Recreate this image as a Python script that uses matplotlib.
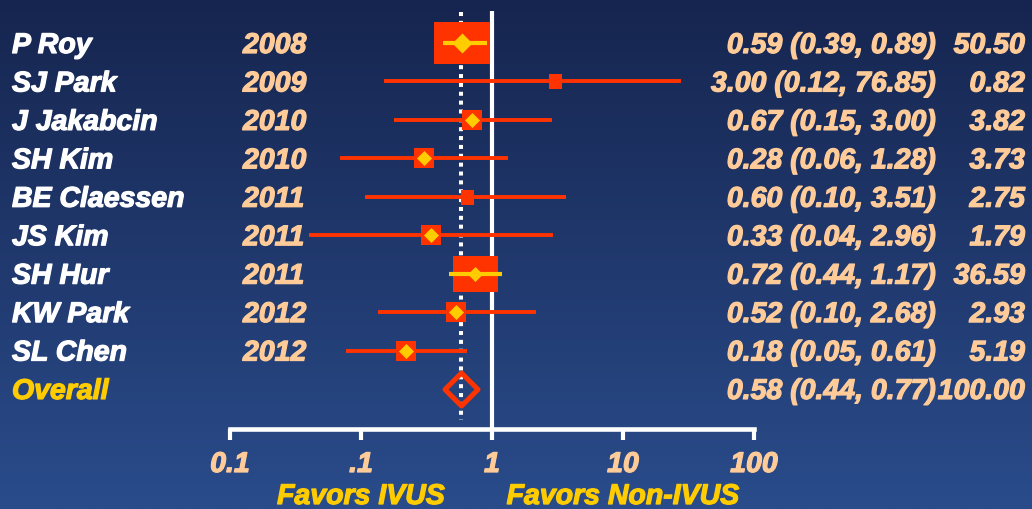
import numpy as np
import matplotlib
matplotlib.use("Agg")
import matplotlib.pyplot as plt
from matplotlib.path import Path
import matplotlib.patheffects as pe

# ---------------- data ----------------
studies = ["P Roy", "SJ Park", "J Jakabcin", "SH Kim", "BE Claessen",
           "JS Kim", "SH Hur", "KW Park", "SL Chen"]
years = ["2008", "2009", "2010", "2010", "2011", "2011", "2011", "2012", "2012"]
or_text = ["0.59 (0.39, 0.89)", "3.00 (0.12, 76.85)", "0.67 (0.15, 3.00)",
           "0.28 (0.06, 1.28)", "0.60 (0.10, 3.51)", "0.33 (0.04, 2.96)",
           "0.72 (0.44, 1.17)", "0.52 (0.10, 2.68)", "0.18 (0.05, 0.61)"]
weight_text = ["50.50", "0.82", "3.82", "3.73", "2.75", "1.79", "36.59", "2.93", "5.19"]
# estimates / CI ends as drawn in the picture
est = [0.59, 3.00, 0.70, 0.30, 0.64, 0.34, 0.74, 0.53, 0.22]
ci_lo = [0.42, 0.15, 0.18, 0.069, 0.107, 0.040, 0.47, 0.135, 0.077]
ci_hi = [0.92, 27.7, 2.87, 1.32, 3.67, 2.92, 1.19, 2.17, 0.645]
overall_label = "Overall"
overall_est = 0.58
overall_text = "0.58 (0.44, 0.77)"
overall_weight = "100.00"
tick_values = [0.01, 0.1, 1, 10, 100]
tick_labels = ["0.1", ".1", "1", "10", "100"]
favors_labels = ["Favors IVUS", "Favors Non-IVUS"]
favors_at = [0.1, 10]

# ---------------- style ----------------
box_w_px = [56, 13, 20, 20, 13, 20, 45, 20, 20]
box_h_px = [42, 15, 20, 20, 15, 20, 36, 20, 20]
diamond_px = [20, 0, 15, 15, 0, 15, 15, 15, 15]
inner_ci = [True, False, False, False, False, False, True, False, False]

RED = "#FF3300"
YELLOW = "#FFCC00"
PEACH = "#FFCC99"
WHITE = "#FFFFFF"
FONT = dict(family="Liberation Sans", weight="bold", style="italic", size=20.5)


def bold_fx(color):
    return [pe.withStroke(linewidth=0.9, foreground=color)]


W, H = 1032, 510
fig = plt.figure(figsize=(W / 100, H / 100), dpi=100)

# background gradient
bg = fig.add_axes([0, 0, 1, 1], zorder=0)
top = np.array([22, 37, 79]) / 255
bot = np.array([42, 76, 139]) / 255
t = np.linspace(0, 1, 256)[:, None]
grad = top[None, :] * (1 - t) + bot[None, :] * t
bg.imshow(grad[:, None, :], aspect="auto", extent=[0, 1, 0, 1], origin="upper")
bg.set_axis_off()

ax = fig.add_axes([0, 0, 1, 1], zorder=1)
ax.patch.set_alpha(0)
ax.set_axis_off()
ax.set_xscale("log")

# pixel mapping: x=1 at 492 px, 131 px per decade; row i centre at 44 + 38.44 i px
x1_px, dec_px = 492.0, 131.0
row0_px, row_px = 44.0, 38.44
ax.set_xlim(10 ** ((0 - x1_px) / dec_px), 10 ** ((W - x1_px) / dec_px))
ax.set_ylim((H - row0_px) / row_px, (0 - row0_px) / row_px)


def ry(px):
    return (px - row0_px) / row_px


def fx(px):
    return px / W


n = len(studies)
rows = np.arange(n)
overall_row = n
base_off = 10 / row_px

# reference lines
ax.plot([1, 1], [ry(12), ry(430)], color=WHITE, lw=3.0, solid_capstyle="butt", zorder=2)
ax.plot([overall_est, overall_est], [ry(13), ry(421)], color=WHITE, lw=2.9,
        linestyle=(0, (1, 1.2)), dash_capstyle="butt", zorder=3)

# axis
ax.plot([tick_values[0], tick_values[-1]], [ry(430), ry(430)], color=WHITE, lw=3.3,
        solid_capstyle="projecting", zorder=2)
for tv, tl in zip(tick_values, tick_labels):
    ax.plot([tv, tv], [ry(430), ry(441)], color=WHITE, lw=3.0, solid_capstyle="butt", zorder=2)
    ax.text(tv, ry(473), tl, color=PEACH, ha="center", va="baseline",
            path_effects=bold_fx(PEACH), **FONT)
for fv, fl in zip(favors_at, favors_labels):
    ax.text(fv, ry(505), fl, color=YELLOW, ha="center", va="baseline",
            path_effects=bold_fx(YELLOW), **FONT)


def rect_marker(w, h):
    verts = [(-w / 2, -h / 2), (w / 2, -h / 2), (w / 2, h / 2), (-w / 2, h / 2), (0, 0)]
    codes = [Path.MOVETO, Path.LINETO, Path.LINETO, Path.LINETO, Path.CLOSEPOLY]
    return Path(verts, codes)


diamond_path = Path([(0, 1), (1, 0), (0, -1), (-1, 0), (0, 0)],
                    [Path.MOVETO, Path.LINETO, Path.LINETO, Path.LINETO, Path.CLOSEPOLY])

for i in range(n):
    y = rows[i]
    ax.plot([ci_lo[i], ci_hi[i]], [y, y], color=RED, lw=2.8, solid_capstyle="butt", zorder=4)
    ax.plot([est[i]], [y], marker=rect_marker(box_w_px[i], box_h_px[i]),
            markersize=max(box_w_px[i], box_h_px[i]) * 0.72, color=RED, mew=0, zorder=5)
    if inner_ci[i]:
        ax.plot([ci_lo[i], ci_hi[i]], [y, y], color=YELLOW, lw=3.0, solid_capstyle="butt", zorder=6)
    if diamond_px[i] > 0:
        ax.plot([est[i]], [y], marker=diamond_path, markersize=diamond_px[i] * 0.72,
                color=YELLOW, mew=0, zorder=7)

# overall hollow diamond
ax.plot([overall_est], [overall_row], marker=diamond_path, markersize=33 * 0.72,
        markerfacecolor="none", markeredgecolor=RED, mew=3.6, zorder=7)

# text columns
ytr = ax.get_yaxis_transform()
for i in range(n):
    yb = rows[i] + base_off
    ax.text(fx(12), yb, studies[i], color=WHITE, ha="left", va="baseline",
            transform=ytr, path_effects=bold_fx(WHITE), **FONT)
    ax.text(fx(243), yb, years[i], color=PEACH, ha="left", va="baseline",
            transform=ytr, path_effects=bold_fx(PEACH), **FONT)
    ax.text(fx(936), yb, or_text[i], color=PEACH, ha="right", va="baseline",
            transform=ytr, path_effects=bold_fx(PEACH), **FONT)
    ax.text(fx(1025), yb, weight_text[i], color=PEACH, ha="right", va="baseline",
            transform=ytr, path_effects=bold_fx(PEACH), **FONT)

yb = overall_row + base_off
ax.text(fx(12), yb, overall_label, color=YELLOW, ha="left", va="baseline",
        transform=ytr, path_effects=bold_fx(YELLOW), **FONT)
ax.text(fx(936), yb, overall_text, color=PEACH, ha="right", va="baseline",
        transform=ytr, path_effects=bold_fx(PEACH), **FONT)
ax.text(fx(1025), yb, overall_weight, color=PEACH, ha="right", va="baseline",
        transform=ytr, path_effects=bold_fx(PEACH), **FONT)

fig.savefig("out.png", dpi=100)
